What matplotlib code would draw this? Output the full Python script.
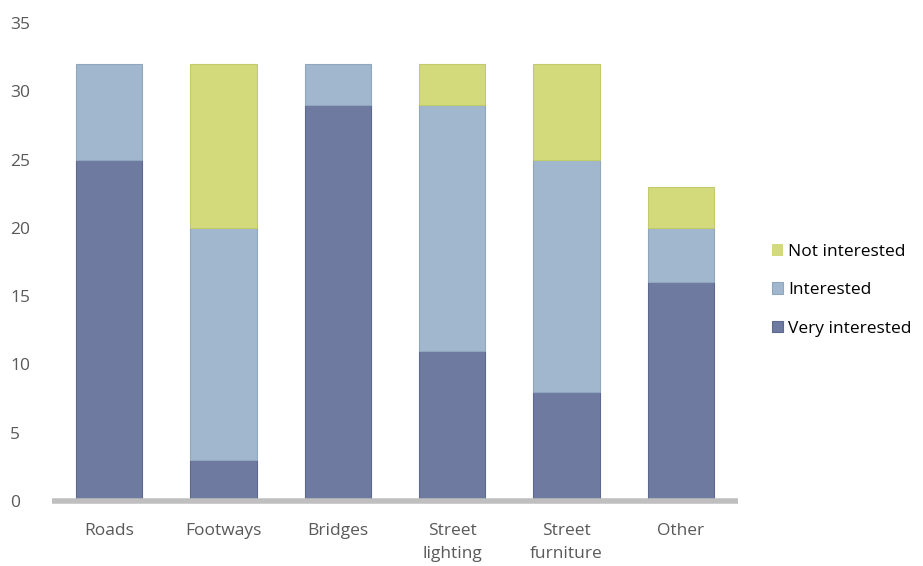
import numpy as np
import matplotlib.pyplot as plt

categories = ['Roads', 'Footways', 'Bridges', 'Street\nlighting', 'Street\nfurniture', 'Other']
very_interested = [25, 3, 29, 11, 8, 16]
interested = [7, 17, 3, 18, 17, 4]
not_interested = [0, 12, 0, 3, 7, 3]

plt.rcParams['font.family'] = ['Open Sans', 'DejaVu Sans']

fig = plt.figure(figsize=(9.23, 5.66), dpi=100)
ax = fig.add_axes([0.0563, 0.1148, 0.7433, 0.8446])

x = np.arange(len(categories))
w = 0.58


def lw(vals):
    return [0.8 if v > 0 else 0 for v in vals]


b1 = ax.bar(x, very_interested, w, color='#6F7AA0', edgecolor='#5E698F', linewidth=lw(very_interested), label='Very interested')
b2 = ax.bar(x, interested, w, bottom=very_interested, color='#A0B7CE', edgecolor='#8FA6BD', linewidth=lw(interested), label='Interested')
bottom3 = np.array(very_interested) + np.array(interested)
b3 = ax.bar(x, not_interested, w, bottom=bottom3, color='#D3DA7C', edgecolor='#C3CA6C', linewidth=lw(not_interested), label='Not interested')

ax.set_xlim(-0.5, 5.5)
ax.set_ylim(0, 35)
ax.set_yticks(range(0, 36, 5))
ax.set_xticks(x)
ax.set_xticklabels(categories, linespacing=1.6)
ax.tick_params(axis='both', length=0, colors='#595959', labelsize=12.5)
ax.tick_params(axis='x', pad=16)
ax.tick_params(axis='y', pad=30)
for lab in ax.get_yticklabels():
    lab.set_horizontalalignment('left')
for s in ['top', 'right', 'left']:
    ax.spines[s].set_visible(False)
ax.spines['bottom'].set_color('#BFBFBF')
ax.spines['bottom'].set_linewidth(4)
ax.spines['bottom'].set_capstyle('butt')

fig.legend([b3, b2, b1], ['Not interested', 'Interested', 'Very interested'],
           loc='center left', bbox_to_anchor=(0.836, 0.487), frameon=False,
           fontsize=12.5, labelspacing=1.28, handlelength=0.65, handleheight=0.65,
           handletextpad=0.3, borderpad=0, borderaxespad=0, labelcolor='#000000')

plt.savefig('out.png', dpi=100)
